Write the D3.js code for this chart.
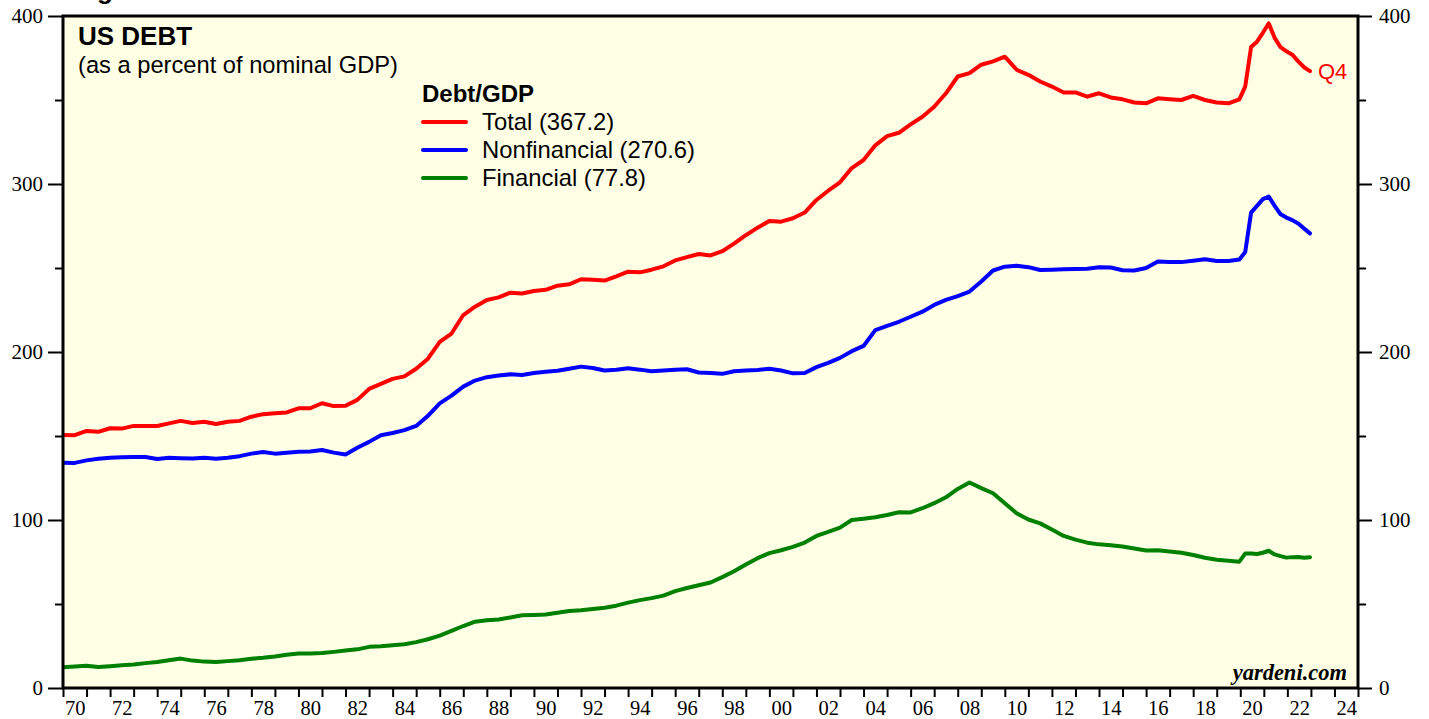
<!DOCTYPE html>
<html><head><meta charset="utf-8">
<script src="https://cdn.jsdelivr.net/npm/d3@7"></script>
<style>
html,body{margin:0;padding:0;background:#fff;}
svg{display:block;}
</style></head>
<body>
<svg id="chart" width="1429" height="719"></svg>
<script>
// ---- data ----
const dates = [
 1970,1970.5,1971,1971.5,1972,1972.5,1973,1973.5,1974,1974.5,
 1975,1975.5,1976,1976.5,1977,1977.5,1978,1978.5,1979,1979.5,
 1980,1980.5,1981,1981.5,1982,1982.5,1983,1983.5,1984,1984.5,
 1985,1985.5,1986,1986.5,1987,1987.5,1988,1988.5,1989,1989.5,
 1990,1990.5,1991,1991.5,1992,1992.5,1993,1993.5,1994,1994.5,
 1995,1995.5,1996,1996.5,1997,1997.5,1998,1998.5,1999,1999.5,
 2000,2000.5,2001,2001.5,2002,2002.5,2003,2003.5,2004,2004.5,
 2005,2005.5,2006,2006.5,2007,2007.5,2008,2008.5,2009,2009.5,
 2010,2010.5,2011,2011.5,2012,2012.5,2013,2013.5,2014,2014.5,
 2015,2015.5,2016,2016.5,2017,2017.5,2018,2018.5,2019,2019.5,
 2019.96,2020.21,2020.46,2020.71,2020.96,2021.21,2021.46,2021.71,2021.96,2022.21,2022.46,2022.71,2022.96
];
const total = [
 150.6,150.5,153,152.5,154.6,154.4,156,156,156,157.5,
 159,157.7,158.5,157.1,158.5,159,161.5,163,163.5,164,
 166.5,166.5,169.5,167.8,168,171.5,178,181,184,185.5,
 190,196,206,211,222,227,231,232.5,235.3,234.8,
 236.3,237,239.5,240.3,243.3,243,242.5,245,247.8,247.4,
 249,251,254.5,256.5,258.3,257.5,260,264.5,269.5,274,
 278,277.6,279.6,283,290.5,296,301,309.5,314.3,323,
 328.5,330.5,335.5,340,346,354,364,366,371,373,
 375.8,368,365,361,358,354.5,354.5,352,354,351.5,
 350.4,348.5,348,351,350.5,350,352.4,350,348.5,348,
 350.4,358,381.5,384.7,390,395.6,387,381.5,379,377,373,369.5,367.2
];
const nonfinancial = [
 134.1,134,135.5,136.5,137,137.3,137.5,137.5,136.3,137,
 136.8,136.6,137,136.5,137,138,139.5,140.5,139.5,140,
 140.6,140.8,141.7,140.1,139,143,146.5,150.5,151.8,153.5,
 156,162,169.4,174,179.4,183,185,186,186.7,186.3,
 187.5,188.3,188.8,190,191.3,190.5,189,189.5,190.3,189.5,
 188.5,189,189.5,189.7,187.8,187.5,187,188.5,189,189.3,
 190,189,187.3,187.5,191,193.5,196.5,200.5,203.6,213,
 215.5,218,221,224,228,231,233.3,236,242,248.5,
 250.8,251.3,250.5,248.8,249,249.2,249.4,249.5,250.5,250.3,
 248.7,248.5,250,253.8,253.5,253.5,254.3,255.2,254.2,254.2,
 255,259.5,283,287,291,292.5,287,282,280,278.5,276.5,273.5,270.6
];
const financial = [
 12.3,12.8,13.3,12.5,13,13.5,14,14.8,15.5,16.5,
 17.5,16.3,15.7,15.5,16,16.5,17.4,18,18.8,19.8,
 20.5,20.5,20.8,21.5,22.3,23,24.5,24.8,25.4,26,
 27.3,29,31.2,34,36.9,39.5,40.3,40.8,42,43.3,
 43.5,43.8,44.8,45.8,46.3,47,47.8,49,50.8,52.3,
 53.5,55,57.7,59.5,61.2,62.8,66,69.5,73.5,77.3,
 80.3,82,84,86.6,90.5,93,95.5,100,100.8,101.6,
 103,104.6,104.5,107,110,113.5,118.5,122.3,119,115.9,
 110,104,100.3,98,94.3,90.5,88.3,86.5,85.5,85,
 84.2,83,81.8,82,81.2,80.5,79.2,77.5,76.3,75.7,
 75.2,80,80,79.8,80.5,81.7,79.5,78.5,77.6,77.9,78,77.5,77.8
];
const seriesNames = ["Total (367.2)", "Nonfinancial (270.6)", "Financial (77.8)"];
const seriesColors = ["#ff0000", "#0000ff", "#008000"];
const yMajorTicks = [0, 100, 200, 300, 400];
const yMinorTicks = [50, 150, 250, 350];
const xYearTicks = [
 1970,1971,1972,1973,1974,1975,1976,1977,1978,1979,1980,1981,1982,1983,1984,1985,1986,1987,1988,1989,
 1990,1991,1992,1993,1994,1995,1996,1997,1998,1999,2000,2001,2002,2003,2004,2005,2006,2007,2008,2009,
 2010,2011,2012,2013,2014,2015,2016,2017,2018,2019,2020,2021,2022,2023,2024,2025
];
const xLabelYears = [1970,1972,1974,1976,1978,1980,1982,1984,1986,1988,1990,1992,1994,1996,1998,2000,2002,2004,2006,2008,2010,2012,2014,2016,2018,2020,2022,2024];

// ---- layout ----
const svg = d3.select("#chart");
const L = 63, R = 1358, T = 16, B = 688;
const x = d3.scaleLinear().domain([1970, 2025]).range([L, R]);
const y = d3.scaleLinear().domain([0, 400]).range([B, T]);
const serif = "'Liberation Serif','Times New Roman',serif";
const sans = "'Liberation Sans',Arial,Helvetica,sans-serif";

// partially visible figure heading
svg.append("text").attr("x", 74).attr("y", -1)
  .attr("font-family", sans).attr("font-weight", "bold").attr("font-size", 26)
  .text("Figure 1.");

// plot background
svg.append("rect").attr("x", L).attr("y", T).attr("width", R - L).attr("height", B - T)
  .attr("fill", "#ffffe6");

// axes
function styleAxis(g) {
  g.select(".domain").remove();
  g.selectAll(".tick line").attr("stroke", "#000").attr("stroke-width", 2);
  g.selectAll(".tick text").attr("font-family", serif).attr("font-size", 21).attr("fill", "#000");
}
svg.append("g").attr("transform", `translate(${L},0)`)
  .call(d3.axisLeft(y).tickValues(yMajorTicks).tickSize(15).tickPadding(5).tickFormat(d3.format("d")))
  .call(styleAxis);
svg.append("g").attr("transform", `translate(${L},0)`)
  .call(d3.axisLeft(y).tickValues(yMinorTicks).tickSize(8).tickFormat(""))
  .call(styleAxis);
svg.append("g").attr("transform", `translate(${R},0)`)
  .call(d3.axisRight(y).tickValues(yMajorTicks).tickSize(14).tickPadding(7).tickFormat(d3.format("d")))
  .call(styleAxis);
svg.append("g").attr("transform", `translate(${R},0)`)
  .call(d3.axisRight(y).tickValues(yMinorTicks).tickSize(8).tickFormat(""))
  .call(styleAxis);
svg.append("g").attr("transform", `translate(0,${B})`)
  .call(d3.axisBottom(x).tickValues(xYearTicks).tickSize(9).tickFormat(""))
  .call(styleAxis);
const xl = svg.append("g").attr("transform", `translate(0,${B})`)
  .call(d3.axisBottom(x).tickValues(xLabelYears.map(d => d + 0.5)).tickSize(0).tickPadding(12)
    .tickFormat(d => String(Math.floor(d) % 100).padStart(2, "0")))
  .call(styleAxis);
xl.selectAll(".tick line").remove();
xl.selectAll(".tick text").attr("font-size", 20.5);

// clip
svg.append("clipPath").attr("id", "clip").append("rect")
  .attr("x", L).attr("y", T).attr("width", R - L).attr("height", B - T);

// lines
const allSeries = [total, nonfinancial, financial];
const line = d3.line().x((d, i) => x(dates[i])).y(d => y(d));
const lg = svg.append("g").attr("clip-path", "url(#clip)");
allSeries.forEach((s, k) => {
  lg.append("path").datum(s).attr("d", line)
    .attr("fill", "none").attr("stroke", seriesColors[k]).attr("stroke-width", 4)
    .attr("stroke-linejoin", "round").attr("stroke-linecap", "round");
});

// frame
svg.append("rect").attr("x", L).attr("y", T).attr("width", R - L).attr("height", B - T)
  .attr("fill", "none").attr("stroke", "#000").attr("stroke-width", 3);

// Q4 label
const lastI = dates.length - 1;
svg.append("text").attr("x", x(dates[lastI]) + 8).attr("y", y(total[lastI]) + 8)
  .attr("font-family", sans).attr("font-size", 22).attr("fill", "#ff0000").text("Q4");

// titles
svg.append("text").attr("x", 78).attr("y", 45)
  .attr("font-family", sans).attr("font-weight", "bold").attr("font-size", 26).text("US DEBT");
svg.append("text").attr("x", 78).attr("y", 73)
  .attr("font-family", sans).attr("font-size", 23.7).text("(as a percent of nominal GDP)");

// legend
svg.append("text").attr("x", 422).attr("y", 102)
  .attr("font-family", sans).attr("font-weight", "bold").attr("font-size", 24).text("Debt/GDP");
seriesNames.forEach((n, k) => {
  const yy = 122 + k * 28;
  svg.append("line").attr("x1", 423).attr("x2", 466).attr("y1", yy).attr("y2", yy)
    .attr("stroke", seriesColors[k]).attr("stroke-width", 4).attr("stroke-linecap", "round");
  svg.append("text").attr("x", 482).attr("y", yy + 8)
    .attr("font-family", sans).attr("font-size", 23.8).text(n);
});

// source
svg.append("text").attr("x", 1347).attr("y", 680).attr("text-anchor", "end")
  .attr("font-family", serif).attr("font-weight", "bold").attr("font-style", "italic")
  .attr("font-size", 22.5).text("yardeni.com");
</script>
</body></html>
